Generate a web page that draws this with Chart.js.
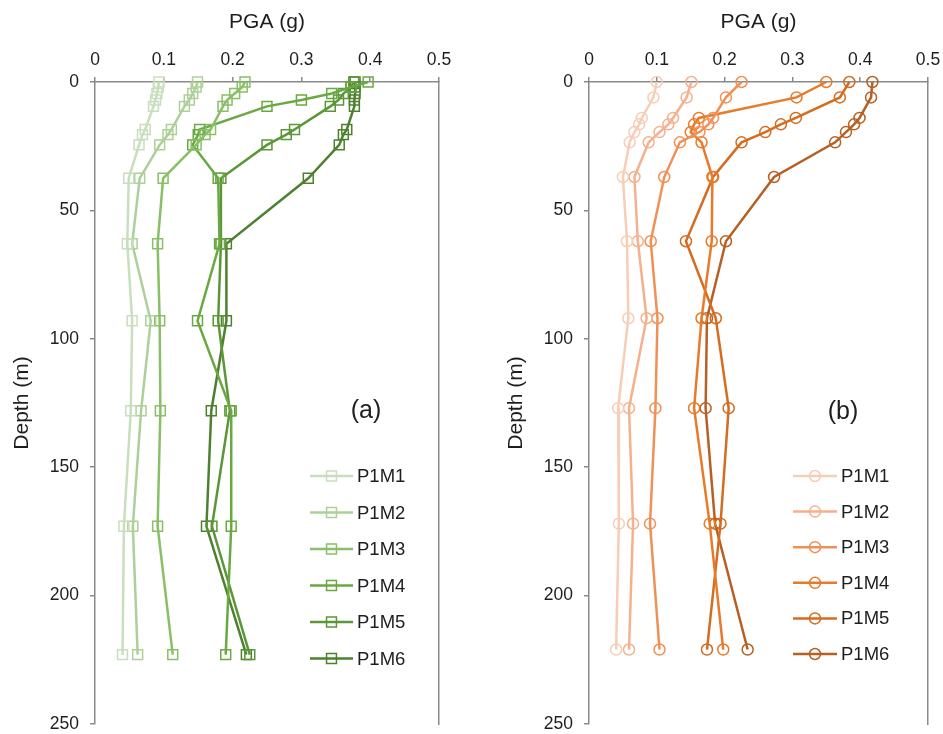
<!DOCTYPE html>
<html><head><meta charset="utf-8">
<script src="https://cdn.jsdelivr.net/npm/chart.js@4.4.0/dist/chart.umd.min.js"></script>
<style>
html,body{margin:0;padding:0;background:#fff;}
#wrap{position:relative;width:943px;height:734px;overflow:hidden;}
.box{position:absolute;top:0;height:734px;}
#boxA{left:0;width:470px;}
#boxB{left:494px;width:449px;}
</style></head><body>
<div id="wrap"><div class="box" id="boxA"><canvas id="cA"></canvas></div><div class="box" id="boxB"><canvas id="cB"></canvas></div></div>
<script>
// ---------- data ----------
const seriesNames = ['P1M1', 'P1M2', 'P1M3', 'P1M4', 'P1M5', 'P1M6'];
const xTickLabels = ['0', '0.1', '0.2', '0.3', '0.4', '0.5'];
const yTickLabels = ['0', '50', '100', '150', '200', '250'];

// panel (a)
const depthA = [0, 2, 4.5, 7, 9.5, 18.5, 20.5, 24.5, 37.5, 63, 93, 128, 173, 223];
const a_P1M1 = [0.093, 0.092, 0.090, 0.088, 0.085, 0.073, 0.069, 0.064, 0.049, 0.047, 0.054, 0.052, 0.042, 0.040];
const a_P1M2 = [0.149, 0.147, 0.142, 0.137, 0.130, 0.111, 0.106, 0.094, 0.065, 0.054, 0.081, 0.067, 0.055, 0.062];
const a_P1M3 = [0.218, 0.214, 0.203, 0.192, 0.186, 0.168, 0.160, 0.147, 0.099, 0.091, 0.094, 0.095, 0.091, 0.113];
const a_P1M4 = [0.397, 0.372, 0.344, 0.300, 0.250, 0.152, 0.150, 0.142, 0.179, 0.181, 0.149, 0.198, 0.198, 0.190];
const a_P1M5 = [0.376, 0.372, 0.361, 0.354, 0.342, 0.290, 0.278, 0.250, 0.183, 0.183, 0.179, 0.196, 0.170, 0.225];
const a_P1M6 = [0.378, 0.378, 0.378, 0.377, 0.377, 0.366, 0.361, 0.355, 0.310, 0.191, 0.191, 0.169, 0.162, 0.220];

// panel (b)
const depthB = [0, 6, 14, 16.5, 19.5, 23.5, 37, 62, 92, 127, 172, 221];
const b_P1M1 = [0.100, 0.095, 0.078, 0.074, 0.067, 0.060, 0.050, 0.056, 0.058, 0.043, 0.044, 0.040];
const b_P1M2 = [0.151, 0.144, 0.124, 0.117, 0.104, 0.088, 0.067, 0.072, 0.085, 0.059, 0.065, 0.059];
const b_P1M3 = [0.225, 0.202, 0.183, 0.176, 0.163, 0.134, 0.111, 0.091, 0.101, 0.098, 0.090, 0.104];
const b_P1M4 = [0.350, 0.306, 0.162, 0.155, 0.150, 0.166, 0.182, 0.181, 0.166, 0.155, 0.178, 0.198];
const b_P1M5 = [0.384, 0.370, 0.305, 0.283, 0.260, 0.225, 0.183, 0.143, 0.187, 0.206, 0.194, 0.174];
const b_P1M6 = [0.418, 0.416, 0.399, 0.391, 0.379, 0.363, 0.273, 0.202, 0.174, 0.172, 0.186, 0.234];

const greens = ['#c8dfbd', '#acd097', '#89bf66', '#6aa942', '#5b9637', '#4d802f'];
const oranges = ['#f8cdb6', '#f5b08e', '#f09057', '#e77b2a', '#d46c21', '#b66023'];

// ---------- helpers ----------
const FONT = '"Liberation Sans", Arial, sans-serif';
const TXT = '#1e1e1e';
const AXC = '#8a8a8a';

function toPoints(xs, ys) { return xs.map((v, i) => ({x: v, y: ys[i]})); }

function makeDatasets(seriesList, depth, colors, style, radius) {
  return seriesList.map((vals, i) => ({
    label: seriesNames[i],
    data: toPoints(vals, depth),
    showLine: true,
    borderColor: colors[i],
    backgroundColor: 'rgba(0,0,0,0)',
    borderWidth: 2.5,
    tension: 0,
    pointStyle: style,
    pointRadius: radius,
    pointHoverRadius: radius,
    pointBorderWidth: 1.5,
    pointBorderColor: colors[i],
    pointBackgroundColor: 'rgba(0,0,0,0)',
    clip: false
  }));
}

const legendPlugin = {
  id: 'sideLegend',
  afterDatasetsDraw(chart, args, opts) {
    const ctx = chart.ctx;
    ctx.save();
    chart.data.datasets.forEach((ds, i) => {
      const y = opts.y0 + i * opts.dy;
      const cx = (opts.x1 + opts.x2) / 2;
      ctx.strokeStyle = ds.borderColor;
      ctx.lineWidth = ds.borderWidth;
      ctx.beginPath();
      ctx.moveTo(opts.x1, y);
      ctx.lineTo(opts.x2, y);
      ctx.stroke();
      ctx.lineWidth = ds.pointBorderWidth;
      ctx.beginPath();
      if (ds.pointStyle === 'rect') {
        const s = ds.pointRadius * Math.SQRT1_2;
        ctx.rect(cx - s, y - s, 2 * s, 2 * s);
      } else {
        ctx.arc(cx, y, ds.pointRadius, 0, Math.PI * 2);
      }
      ctx.stroke();
      ctx.fillStyle = TXT;
      ctx.font = opts.fontSize + 'px ' + FONT;
      ctx.textAlign = 'left';
      ctx.textBaseline = 'middle';
      ctx.fillText(ds.label, opts.tx, y + 1);
    });
    ctx.font = opts.tagSize + 'px ' + FONT;
    ctx.textAlign = 'center';
    ctx.textBaseline = 'middle';
    ctx.fillStyle = TXT;
    ctx.fillText(opts.tag, opts.tagX, opts.tagY);
    ctx.restore();
  }
};

function makeChart(canvasId, datasets, geo, legendOpts) {
  return new Chart(document.getElementById(canvasId), {
    type: 'scatter',
    data: {datasets},
    plugins: [legendPlugin],
    options: {
      responsive: true,
      maintainAspectRatio: false,
      animation: false,
      events: [],
      layout: {padding: {left: 0, top: 0, right: geo.padRight, bottom: geo.padBottom}},
      plugins: {legend: {display: false}, tooltip: {enabled: false}, sideLegend: legendOpts},
      scales: {
        x: {
          type: 'linear', position: 'top', min: 0, max: 0.5,
          afterFit(s) { s.height = geo.top; s.paddingLeft = 0; s.paddingRight = 0; },
          afterBuildTicks(s) { s.ticks = xTickLabels.map(t => ({value: parseFloat(t)})); },
          ticks: {
            font: {size: 17.5, family: FONT}, color: TXT, padding: 6,
            callback: (v, i) => xTickLabels[i]
          },
          grid: {display: true, drawOnChartArea: false, drawTicks: true, tickLength: 5, color: AXC, lineWidth: 1.5},
          border: {display: true, color: AXC, width: 1.5},
          title: {display: true, text: 'PGA (g)', font: {size: 21, family: FONT}, color: TXT, padding: {top: 10, bottom: 0}}
        },
        y: {
          type: 'linear', position: 'left', min: 0, max: 250, reverse: true,
          afterFit(s) { s.width = geo.left; s.paddingTop = 0; s.paddingBottom = 0; },
          afterBuildTicks(s) { s.ticks = yTickLabels.map(t => ({value: parseFloat(t)})); },
          ticks: {
            font: {size: 17.5, family: FONT}, color: TXT, padding: 11,
            callback: (v, i) => yTickLabels[i]
          },
          grid: {display: true, drawOnChartArea: false, drawTicks: true, tickLength: 5, color: AXC, lineWidth: 1.5},
          border: {display: true, color: AXC, width: 1.5},
          title: {display: true, text: 'Depth (m)', font: {size: 21, family: FONT}, color: TXT, padding: {top: 9.5, bottom: 0}}
        },
        y2: {
          type: 'linear', position: 'right', min: 0, max: 250, reverse: true,
          afterFit(s) { s.width = 0; s.paddingTop = 0; s.paddingBottom = 0; },
          ticks: {display: false},
          grid: {display: false, drawTicks: false},
          border: {display: true, color: AXC, width: 1.5}
        }
      }
    }
  });
}

makeChart('cA',
  makeDatasets([a_P1M1, a_P1M2, a_P1M3, a_P1M4, a_P1M5, a_P1M6], depthA, greens, 'rect', 7),
  {left: 95, top: 82, padRight: 31, padBottom: 10},
  {x1: 310, x2: 353, tx: 357, y0: 476, dy: 36.5, fontSize: 18.5, tag: '(a)', tagX: 366, tagY: 411, tagSize: 25});

makeChart('cB',
  makeDatasets([b_P1M1, b_P1M2, b_P1M3, b_P1M4, b_P1M5, b_P1M6], depthB, oranges, 'circle', 5.5),
  {left: 95, top: 82, padRight: 15, padBottom: 10},
  {x1: 299, x2: 343, tx: 347, y0: 476, dy: 35.6, fontSize: 18.5, tag: '(b)', tagX: 349, tagY: 412, tagSize: 25});
</script>
</body></html>
